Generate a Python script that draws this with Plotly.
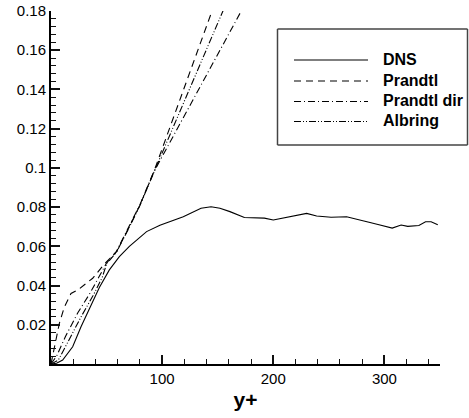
import plotly.graph_objects as go

# ---- data ----
dns_x = [0, 5, 10.5, 19.5, 27, 35, 43.5, 52.5, 61.5, 70.5, 79, 86, 98, 119, 135, 144, 152, 161,
         174, 192, 200, 215, 230, 239, 252, 266, 276, 287, 296, 307, 315, 321, 331, 337, 342, 348]
dns_y = [0, 0.0004, 0.002, 0.0088, 0.019, 0.029, 0.039, 0.048, 0.0547, 0.060, 0.064, 0.0675,
         0.0708, 0.0751, 0.0794, 0.0802, 0.0794, 0.0777, 0.0747, 0.0744, 0.0734, 0.0751, 0.0768,
         0.0755, 0.0748, 0.0751, 0.0739, 0.0722, 0.0709, 0.0693, 0.0709, 0.0702, 0.0706, 0.0725,
         0.0725, 0.071]

prandtl_x = [0, 3, 7.5, 12, 18, 24, 31.5, 37.5, 48.5, 59, 70.5, 80, 92, 116, 145.3, 150]
prandtl_y = [0, 0.009, 0.0207, 0.029, 0.036, 0.0377, 0.041, 0.0437, 0.0513, 0.0573, 0.070,
             0.081, 0.0972, 0.1346, 0.1805, 0.188]

pdir_x = [0, 5, 13, 24, 35, 45, 50, 59, 70.5, 80, 92, 130, 171.9, 176]
pdir_y = [0, 0.004, 0.014, 0.026, 0.036, 0.046, 0.0515, 0.0575, 0.0702, 0.0812, 0.0974, 0.1367,
          0.1805, 0.185]

albring_x = [0, 6.6, 15, 27, 38, 46, 50, 59, 70.5, 80, 92, 125, 154.8, 160]
albring_y = [0, 0.002, 0.011, 0.024, 0.035, 0.044, 0.051, 0.0571, 0.0698, 0.0808, 0.0970,
             0.1411, 0.1805, 0.187]

names = ["DNS", "Prandtl", "Prandtl dir", "Albring"]
dashes = ["solid", "7px,5px", "7px,3px,1px,3px", "7px,2px,1px,2px,1px,2px"]

y_ticks = [0.02, 0.04, 0.06, 0.08, 0.10, 0.12, 0.14, 0.16, 0.18]
y_ticktext = ["0.02", "0.04", "0.06", "0.08", "0.1", "0.12", "0.14", "0.16", "0.18"]
x_ticks = [100, 200, 300]
x_ticktext = ["100", "200", "300"]

# ---- layout geometry ----
W, H = 469, 418
L, R, T, B = 51, 29, 11, 54
PW, PH = W - L - R, H - T - B


def px(xp):
    return (xp - L) / PW


def py(yp):
    return (T + PH - yp) / PH


fig = go.Figure()
series = [(dns_x, dns_y), (prandtl_x, prandtl_y), (pdir_x, pdir_y), (albring_x, albring_y)]
for (xs, ys), nm, ds in zip(series, names, dashes):
    fig.add_trace(go.Scatter(x=xs, y=ys, mode="lines", name=nm, showlegend=False,
                             line=dict(color="black", width=1.1, dash=ds)))

FONT = "Liberation Sans"

fig.update_layout(
    width=W, height=H,
    margin=dict(l=L, r=R, t=T, b=B, autoexpand=False),
    paper_bgcolor="white", plot_bgcolor="white",
    font=dict(family=FONT, size=15, color="black"),
    showlegend=False,
)

fig.update_xaxes(
    range=[0, 350], showgrid=False, zeroline=False,
    showline=True, linecolor="black", linewidth=2,
    ticks="inside", ticklen=9, tickwidth=2, tickcolor="#111111",
    tickvals=x_ticks, ticktext=x_ticktext,
    minor=dict(ticks="inside", dtick=20, ticklen=5, tickwidth=1, tickcolor="#111111"),
    title=dict(text="<b>y+</b>", font=dict(size=21), standoff=6),
    layer="above traces",
)
fig.update_yaxes(
    range=[0, 0.18], showgrid=False,
    showline=True, linecolor="black", linewidth=2,
    ticks="inside", ticklen=9, tickwidth=2, tickcolor="#111111",
    tickvals=y_ticks, ticktext=y_ticktext,
    minor=dict(ticks="inside", dtick=0.004, ticklen=5, tickwidth=1, tickcolor="#111111"),
    layer="above traces",
)

# ---- manual legend: box drawn from four line shapes ----
bx0, bx1, by0, by1 = 277.5, 467.5, 29, 145
edges = [(bx0, by0, bx1, by0), (bx0, by1, bx1, by1), (bx0, by0, bx0, by1), (bx1, by0, bx1, by1)]
shapes = []
for ex0, ey0, ex1, ey1 in edges:
    shapes.append(dict(type="line", xref="paper", yref="paper",
                       x0=px(ex0), x1=px(ex1), y0=py(ey0), y1=py(ey1),
                       line=dict(color="#444444", width=1.5)))
rows = [60, 81, 101.5, 121.5]
annotations = []
for nm, ds, yr in zip(names, dashes, rows):
    shapes.append(dict(type="line", xref="paper", yref="paper",
                       x0=px(294), x1=px(368), y0=py(yr), y1=py(yr),
                       line=dict(color="black", width=1.1, dash=ds)))
    annotations.append(dict(xref="paper", yref="paper", x=px(381), y=py(yr - 0.5),
                            xanchor="left", yanchor="middle", showarrow=False,
                            text="<b>%s</b>" % nm, font=dict(size=16)))
fig.update_layout(shapes=shapes, annotations=annotations)

fig.write_html("out.html")
